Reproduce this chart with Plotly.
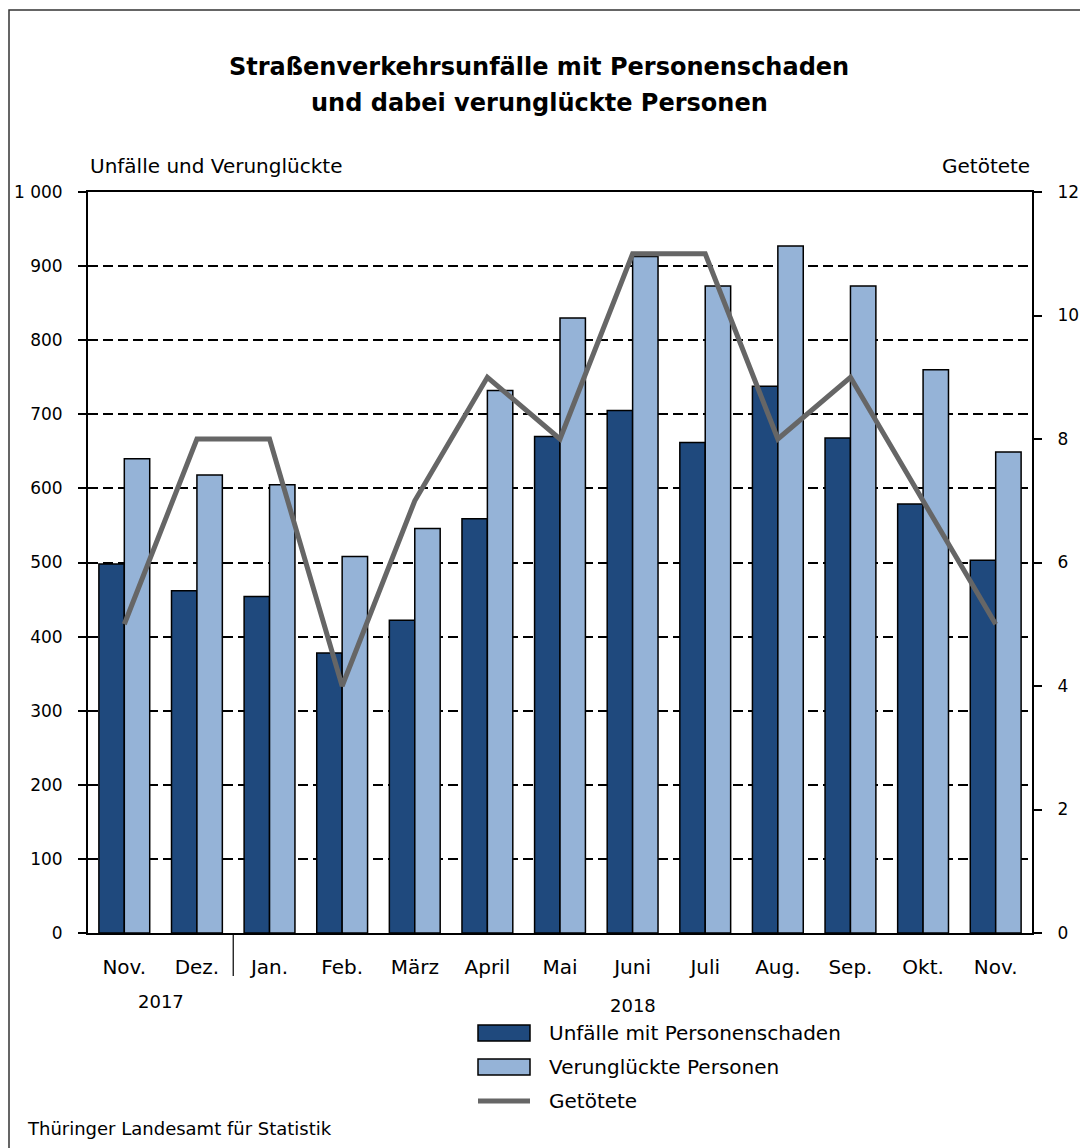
import plotly.graph_objects as go

# ---- data ----
months = ["Nov.", "Dez.", "Jan.", "Feb.", "März", "April", "Mai", "Juni",
          "Juli", "Aug.", "Sep.", "Okt.", "Nov."]
categories = [f"{m}_{i}" for i, m in enumerate(months)]
unfaelle = [498, 462, 454, 378, 422, 559, 670, 705, 662, 738, 668, 579, 503]
verunglueckte = [640, 618, 605, 508, 546, 732, 830, 913, 873, 927, 873, 760, 649]
getoetete = [5, 8, 8, 4, 7, 9, 8, 11, 11, 8, 9, 7, 5]
years = ["2017", "2018"]
year_pos = [0.5, 7]
left_ticks = [0, 100, 200, 300, 400, 500, 600, 700, 800, 900, 1000]
left_ticktext = ["0", "100", "200", "300", "400", "500", "600", "700", "800", "900", "1 000"]
right_ticks = [0, 2, 4, 6, 8, 10, 12]

series_names = ["Unfälle mit Personenschaden", "Verunglückte Personen", "Getötete"]
title_lines = ["Straßenverkehrsunfälle mit Personenschaden",
               "und dabei verunglückte Personen"]
left_title = "Unfälle und Verunglückte"
right_title = "Getötete"
source_text = "Thüringer Landesamt für Statistik"

DARK = "#1F497D"
LIGHT = "#95B3D7"
GREY = "#666666"
FONT = "'DejaVu Sans', Verdana, sans-serif"

OFF = 8  # default page body margin
W, H = 1080, 1140
L, R, T, B = 80, 56, 184, 215
PW, PH = W - L - R, H - T - B


def px(xp):  # reference page pixel -> paper fraction
    return (xp - OFF - L) / PW


def py(yp):
    return (H - B - (yp - OFF)) / PH


fig = go.Figure()
fig.add_trace(go.Bar(x=categories, y=unfaelle, name=series_names[0],
                     marker=dict(color=DARK, line=dict(color="black", width=1.5))))
fig.add_trace(go.Bar(x=categories, y=verunglueckte, name=series_names[1],
                     marker=dict(color=LIGHT, line=dict(color="black", width=1.5))))
fig.add_trace(go.Scatter(x=categories, y=getoetete, name=series_names[2], yaxis="y2",
                         mode="lines", line=dict(color=GREY, width=5)))

shapes = []
annotations = []

# outer frame
shapes.append(dict(type="rect", xref="paper", yref="paper",
                   x0=px(9), x1=px(1100), y0=py(1160), y1=py(10),
                   line=dict(color="#333333", width=1.5), fillcolor="rgba(0,0,0,0)",
                   layer="below"))
# year separator between Dez. and Jan.
shapes.append(dict(type="line", xref="x", yref="paper", x0=1.5, x1=1.5,
                   y0=0, y1=py(976), line=dict(color="black", width=1.2)))

# legend (manual)
leg_y = [1033, 1067, 1101]
for i, (name, col) in enumerate(zip(series_names, [DARK, LIGHT, GREY])):
    yc = leg_y[i]
    if i < 2:
        shapes.append(dict(type="rect", xref="paper", yref="paper",
                           x0=px(478), x1=px(530), y0=py(yc + 8), y1=py(yc - 8),
                           fillcolor=col, line=dict(color="black", width=1.5)))
    else:
        shapes.append(dict(type="line", xref="paper", yref="paper",
                           x0=px(478), x1=px(530), y0=py(yc), y1=py(yc),
                           line=dict(color=col, width=5)))
    annotations.append(dict(text=name, xref="paper", yref="paper", x=px(547), y=py(yc),
                            xanchor="left", yanchor="middle", showarrow=False,
                            font=dict(size=20, color="black", family=FONT)))

# title (two lines)
for line, yy in zip(title_lines, [67, 103]):
    annotations.append(dict(text=f"<b>{line}</b>", xref="paper", yref="paper",
                            x=px(539), y=py(yy), xanchor="center", yanchor="middle",
                            showarrow=False,
                            font=dict(size=24, color="black", family=FONT)))
# axis titles
annotations.append(dict(text=left_title, xref="paper", yref="paper", x=0, y=py(166),
                        xanchor="left", yanchor="middle", showarrow=False,
                        font=dict(size=20, color="black", family=FONT)))
annotations.append(dict(text=right_title, xref="paper", yref="paper", x=1, y=py(166),
                        xanchor="right", yanchor="middle", showarrow=False,
                        font=dict(size=20, color="black", family=FONT)))
# years
for label, xpos, yy in zip(years, year_pos, [1001, 1005]):
    annotations.append(dict(text=label, xref="x", yref="paper", x=xpos, y=py(yy),
                            xanchor="center", yanchor="middle", showarrow=False,
                            font=dict(size=18, color="black", family=FONT)))
# source
annotations.append(dict(text=source_text, xref="paper", yref="paper", x=px(25), y=py(1128),
                        xanchor="left", yanchor="middle", showarrow=False,
                        font=dict(size=18, color="black", family=FONT)))

fig.update_layout(
    width=W, height=H,
    margin=dict(l=L, r=R, t=T, b=B, pad=0, autoexpand=False),
    paper_bgcolor="white", plot_bgcolor="white",
    barmode="group", bargap=0.3, bargroupgap=0,
    showlegend=False,
    font=dict(family=FONT, size=20, color="black"),
    xaxis=dict(type="category", tickvals=categories, ticktext=months, automargin=False,
               showline=True, linecolor="black", linewidth=2, mirror=True,
               ticks="", ticklabelstandoff=15, showgrid=False,
               tickfont=dict(size=20), range=[-0.5, len(categories) - 0.5]),
    yaxis=dict(range=[0, 1000], tickvals=left_ticks, ticktext=left_ticktext, automargin=False,
               showline=True, linecolor="black", linewidth=2,
               ticks="outside", ticklen=8, tickwidth=1.5, tickcolor="black",
               ticklabelstandoff=12,
               showgrid=True, gridcolor="black", gridwidth=1.5, griddash="10px,5px",
               zeroline=False, tickfont=dict(size=17)),
    yaxis2=dict(range=[0, 12], tickvals=right_ticks, overlaying="y", side="right",
                automargin=False,
                showline=True, linecolor="black", linewidth=2,
                ticks="outside", ticklen=8, tickwidth=1.5, tickcolor="black",
                ticklabelstandoff=12,
                showgrid=False, zeroline=False, tickfont=dict(size=17)),
    shapes=shapes,
    annotations=annotations,
)

fig.write_html("out.html")
